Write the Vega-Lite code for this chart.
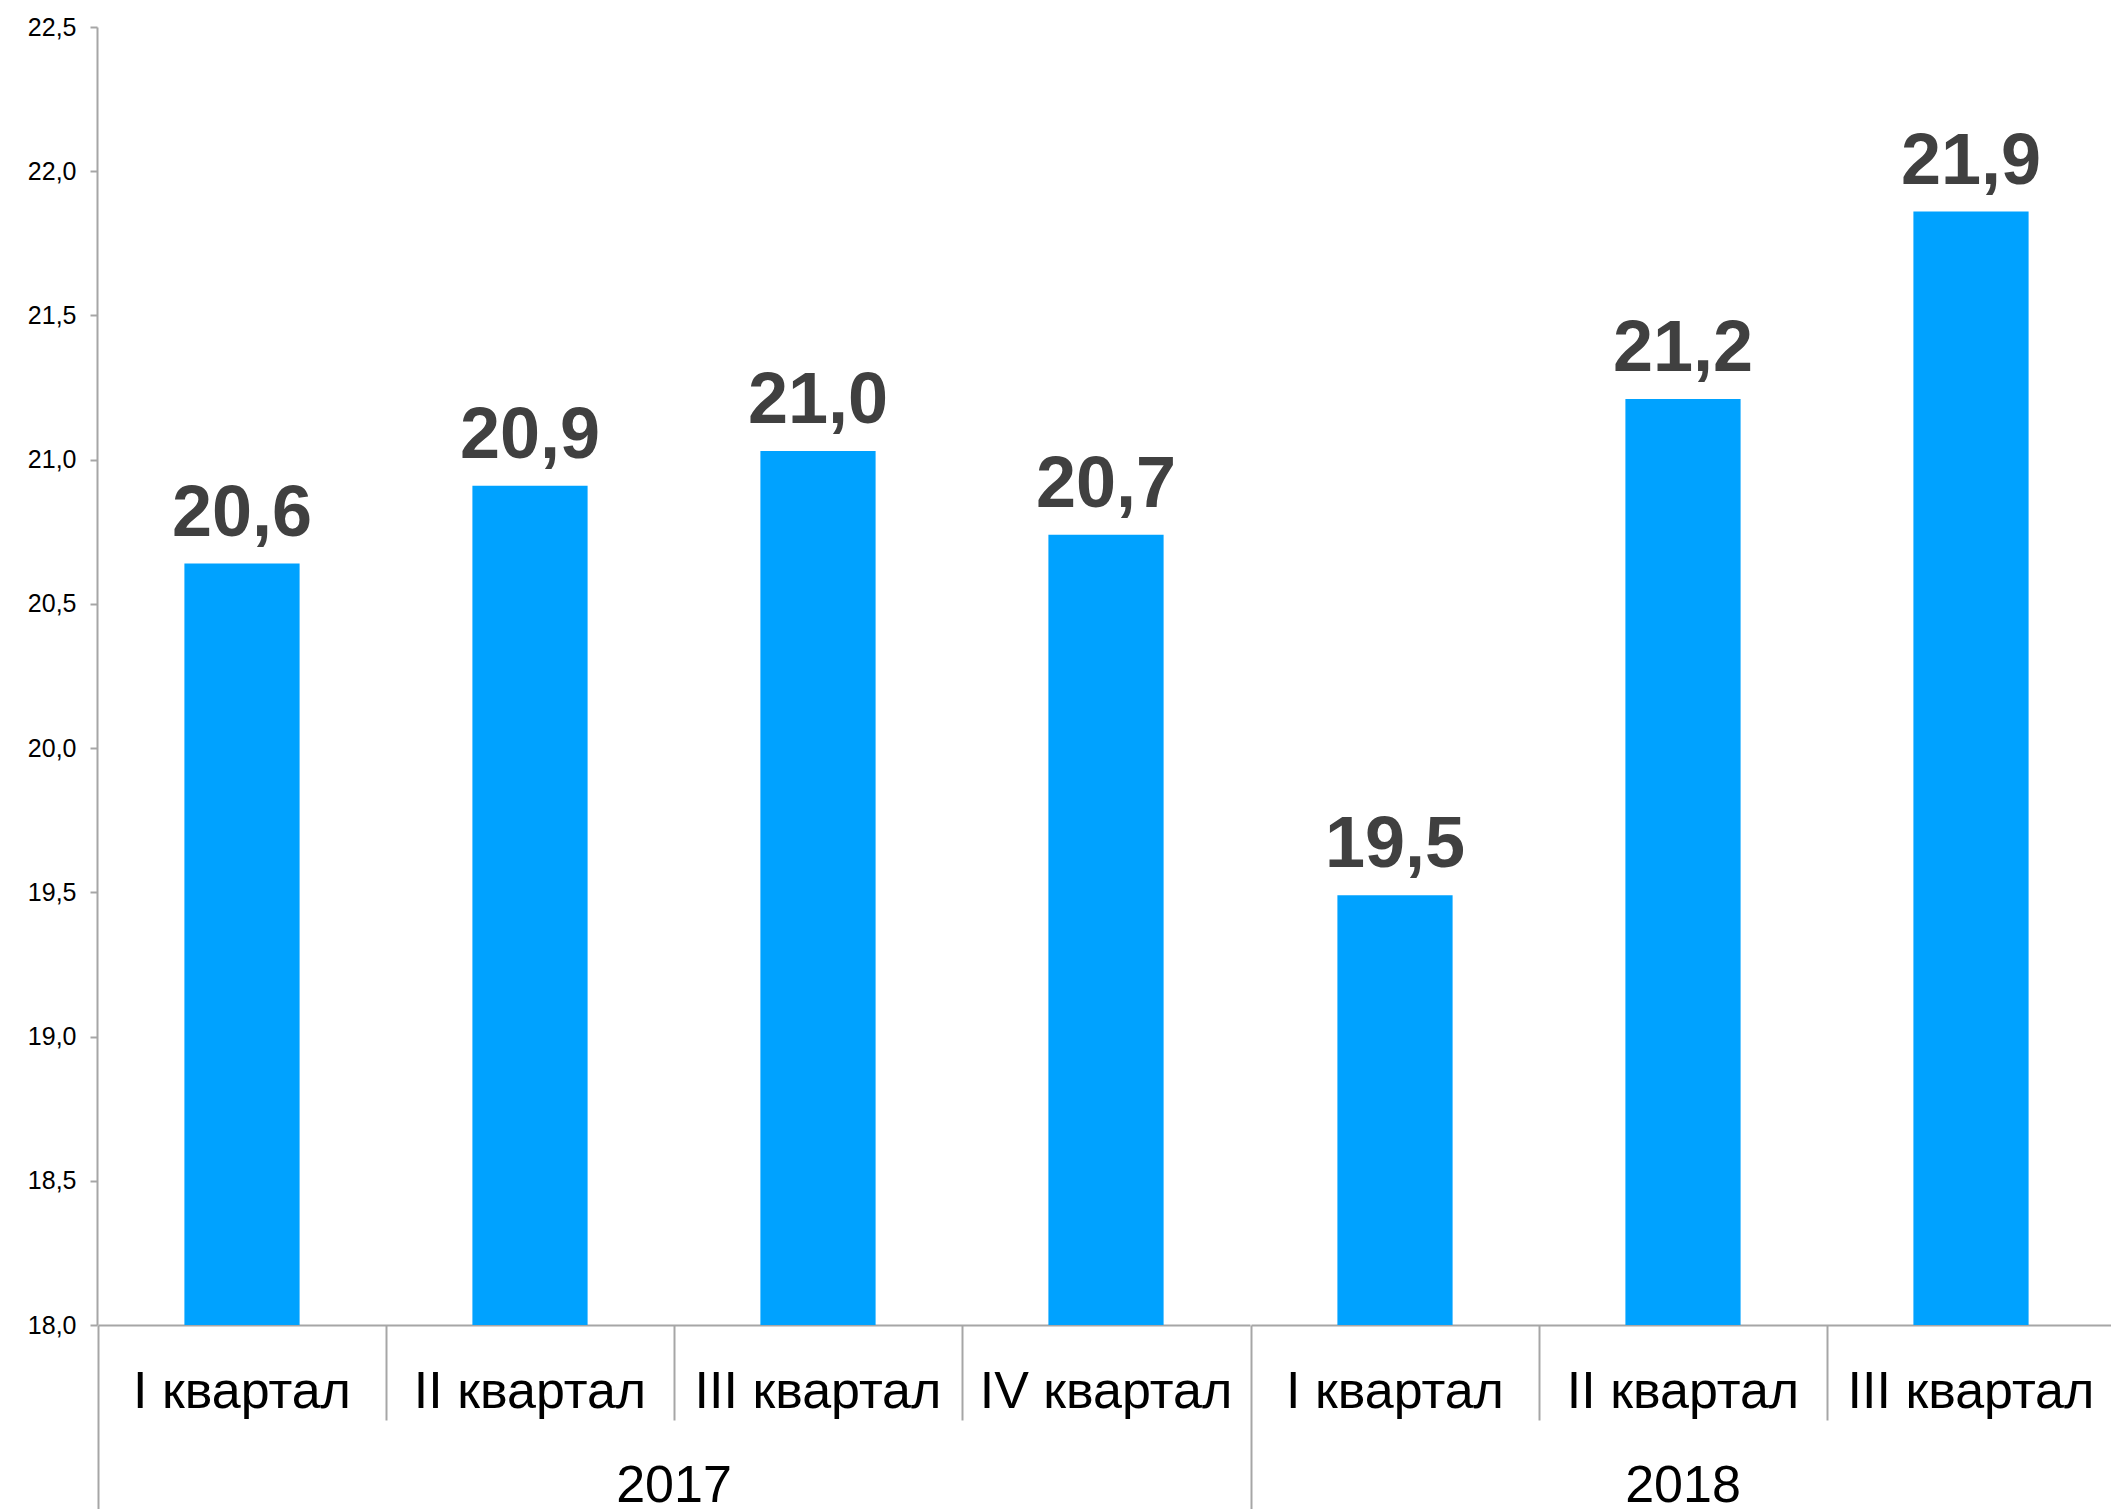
{
  "$schema": "https://vega.github.io/schema/vega-lite/v6.json",
  "padding": {"left": 27, "top": 15, "right": 0, "bottom": 0},
  "background": "white",
  "config": {
    "locale": {"number": {"decimal": ",", "thousands": "\u00a0", "grouping": [3], "currency": ["", ""]}},
    "view": {"stroke": null},
    "font": "Liberation Sans"
  },
  "data": {"values": [
    {"year": "2017", "quarter": "I квартал", "value": 20.64},
    {"year": "2017", "quarter": "II квартал", "value": 20.91},
    {"year": "2017", "quarter": "III квартал", "value": 21.03},
    {"year": "2017", "quarter": "IV квартал", "value": 20.74},
    {"year": "2018", "quarter": "I квартал", "value": 19.49},
    {"year": "2018", "quarter": "II квартал", "value": 21.21},
    {"year": "2018", "quarter": "III квартал", "value": 21.86}
  ]},
  "facet": {"column": {"field": "year", "type": "ordinal", "title": null,
    "header": {"labelOrient": "bottom", "labelFont": "Liberation Sans", "labelFontSize": 52, "labelColor": "black", "labelPadding": -50}}},
  "spacing": 0,
  "resolve": {"scale": {"x": "independent"}},
  "spec": {
    "width": {"step": 288},
    "height": 1298,
    "encoding": {
      "x": {"field": "quarter", "type": "nominal", "sort": ["I квартал", "II квартал", "III квартал", "IV квартал"], "title": null,
        "scale": {"paddingInner": 0.6, "paddingOuter": 0.3},
        "axis": {"labelAngle": 0, "labelFontSize": 52, "labelFont": "Liberation Sans", "labelColor": "black", "labelLimit": 500,
          "domainColor": "#a6a6a6", "domainWidth": 2, "tickColor": "#a6a6a6", "tickWidth": 2,
          "bandPosition": -0.75,
          "tickSize": {"condition": {"test": "datum.index === 0", "value": 185}, "value": 95},
          "labelPadding": {"condition": {"test": "datum.index === 0", "value": -144}, "value": -54}}},
      "y": {"field": "value", "type": "quantitative", "title": null,
        "scale": {"domain": [18, 22.5], "zero": false, "nice": false},
        "axis": {"values": [18, 18.5, 19, 19.5, 20, 20.5, 21, 21.5, 22, 22.5], "format": ".1f", "grid": false,
          "labelFontSize": 25, "labelFont": "Liberation Sans", "labelColor": "black", "labelPadding": 14,
          "tickSize": 7, "tickColor": "#a6a6a6", "tickWidth": 2, "domainColor": "#a6a6a6", "domainWidth": 2}}
    },
    "layer": [
      {"mark": {"type": "bar", "color": "#00a2ff"}, "encoding": {"y2": {"datum": 18}}},
      {"mark": {"type": "text", "font": "Liberation Sans", "fontWeight": "bold", "fontSize": 72, "color": "#404040", "baseline": "alphabetic", "dy": -28},
        "encoding": {"text": {"field": "value", "type": "quantitative", "format": ".1f"}}}
    ]
  }
}
